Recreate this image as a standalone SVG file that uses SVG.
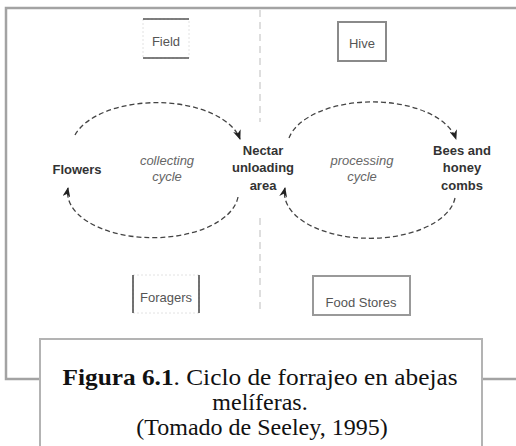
<svg xmlns="http://www.w3.org/2000/svg" width="516" height="446" viewBox="0 0 516 446">
<defs>
<style>
.frame{fill:none;stroke:#a3a3a3;stroke-width:2.5}
.cap{fill:#fff;stroke:#b3b3b3;stroke-width:2}
.lbl{font-family:"Liberation Sans",Arial,sans-serif;font-size:13px;fill:#555;text-anchor:middle}
.node{font-family:"Liberation Sans",Arial,sans-serif;font-size:13px;font-weight:bold;fill:#333;text-anchor:middle}
.cyc{font-family:"Liberation Sans",Arial,sans-serif;font-size:13px;font-style:italic;fill:#666;text-anchor:middle}
.arc{fill:none;stroke:#444;stroke-width:1.3;stroke-dasharray:5,3}
.div{fill:none;stroke:#c8c8c8;stroke-width:1.2;stroke-dasharray:7,5}
.capt{font-family:"Liberation Serif","Times New Roman",serif;font-size:24px;fill:#111;text-anchor:middle}
</style>
<marker id="ah" markerWidth="10" markerHeight="8" refX="9" refY="4" orient="auto" markerUnits="userSpaceOnUse">
<path d="M0,0 L10,4 L0,8 L3,4 z" fill="#222"/>
</marker>
</defs>
<rect width="516" height="446" fill="#fff"/>
<g id="frame">
<path class="frame" d="M516,8 H6 V379 H40 M482,379 H516"/>
</g>
<g id="divider">
<line class="div" x1="260" y1="10" x2="260" y2="122"/>
<line class="div" x1="260" y1="218" x2="260" y2="312"/>
</g>
<g id="field">
<rect x="143" y="19" width="46" height="39" fill="none" stroke="#e2e2e2" stroke-width="1" stroke-dasharray="2,2"/>
<line x1="143" y1="19" x2="189" y2="19" stroke="#555" stroke-width="1.5"/>
<line x1="143" y1="58" x2="189" y2="58" stroke="#555" stroke-width="1.5"/>
<text class="lbl" x="166" y="46">Field</text>
</g>
<g id="hive">
<rect x="338" y="22" width="48" height="39" fill="none" stroke="#8a8a8a" stroke-width="2"/>
<text class="lbl" x="362" y="48">Hive</text>
</g>
<g id="foragers">
<rect x="133" y="275" width="66" height="38" fill="none" stroke="#e2e2e2" stroke-width="1" stroke-dasharray="2,2"/>
<line x1="133" y1="275" x2="133" y2="313" stroke="#444" stroke-width="1.5"/>
<line x1="199" y1="275" x2="199" y2="313" stroke="#444" stroke-width="1.5"/>
<text class="lbl" x="166" y="302">Foragers</text>
</g>
<g id="food-stores">
<rect x="313" y="276" width="97" height="39" fill="none" stroke="#999" stroke-width="2"/>
<text class="lbl" x="361" y="307">Food Stores</text>
</g>
<g id="flowers">
<text class="node" x="77" y="173.5">Flowers</text>
</g>
<g id="collecting-cycle">
<text class="cyc" x="167" y="165">collecting</text>
<text class="cyc" x="167" y="181">cycle</text>
</g>
<g id="nectar-area">
<text class="node" x="263" y="155">Nectar</text>
<text class="node" x="263" y="172">unloading</text>
<text class="node" x="263" y="190">area</text>
</g>
<g id="processing-cycle">
<text class="cyc" x="362" y="165">processing</text>
<text class="cyc" x="362" y="181">cycle</text>
</g>
<g id="bees-combs">
<text class="node" x="462" y="155">Bees and</text>
<text class="node" x="462" y="172">honey</text>
<text class="node" x="462" y="190">combs</text>
</g>
<g id="connectors">
<path class="arc" d="M75,135 A85,45 0 0 1 240,139" marker-end="url(#ah)"/>
<path class="arc" d="M238,197 A85,45 0 0 1 68,188" marker-end="url(#ah)"/>
<path class="arc" d="M289,138 A85,45 0 0 1 456,139" marker-end="url(#ah)"/>
<path class="arc" d="M455,198 A85,45 0 0 1 285,188" marker-end="url(#ah)"/>
</g>
<g id="caption">
<rect class="cap" x="40" y="339" width="442" height="120"/>
<text class="capt" x="260" y="385" textLength="395" lengthAdjust="spacingAndGlyphs"><tspan font-weight="bold">Figura 6.1</tspan>. Ciclo de forrajeo en abejas</text>
<text class="capt" x="260" y="410">melíferas.</text>
<text class="capt" x="262" y="435">(Tomado de Seeley, 1995)</text>
</g>
</svg>
